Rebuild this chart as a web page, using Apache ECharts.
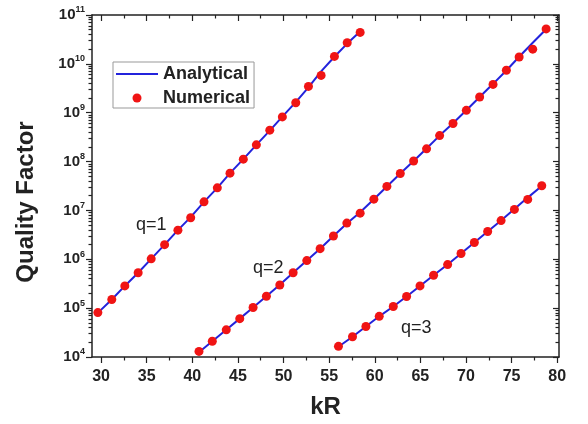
<!DOCTYPE html>
<html>
<head>
<meta charset="utf-8">
<script src="https://cdn.jsdelivr.net/npm/echarts@6/dist/echarts.min.js"></script>
<style>html,body{margin:0;padding:0;background:#fff}#main{width:588px;height:424px}</style>
</head>
<body>
<div id="main"></div>
<script>
// numerical points (kR, Q)
var kr1 = [29.64,31.17,32.6,34.06,35.49,36.96,38.42,39.82,41.28,42.74,44.13,45.59,47.02,48.49,49.87,51.34,52.73,54.12,55.58,56.98,58.4];
var num1 = [8.1e4,1.5e5,2.85e5,5.3e5,1.02e6,1.99e6,3.95e6,7.1e6,1.5e7,2.9e7,5.8e7,1.12e8,2.2e8,4.4e8,8.2e8,1.6e9,3.45e9,5.8e9,1.42e10,2.7e10,4.4e10];
var kr2 = [40.73,42.19,43.72,45.2,46.66,48.12,49.59,51.05,52.55,54.01,55.47,56.94,58.4,59.9,61.33,62.8,64.26,65.68,67.11,68.58,70.04,71.5,72.97,74.43,75.83,77.32,78.79];
var num2 = [1.3e4,2.1e4,3.6e4,6.1e4,1.03e5,1.75e5,2.98e5,5.3e5,9.4e5,1.65e6,3.0e6,5.5e6,8.8e6,1.7e7,3.1e7,5.7e7,1.03e8,1.82e8,3.4e8,6.0e8,1.12e9,2.1e9,3.8e9,7.4e9,1.38e10,2.0e10,5.2e10];
var kr3 = [56.02,57.56,59.03,60.49,62.03,63.49,64.96,66.45,67.99,69.46,70.92,72.38,73.85,75.31,76.77,78.31];
var num3 = [1.65e4,2.6e4,4.2e4,6.8e4,1.08e5,1.73e5,2.85e5,4.7e5,7.8e5,1.31e6,2.2e6,3.7e6,6.2e6,1.05e7,1.68e7,3.2e7];

// analytical curves at the same kR
var ana1 = [8.0e4,1.5e5,2.85e5,5.3e5,1.02e6,1.99e6,3.95e6,7.3e6,1.5e7,2.9e7,5.8e7,1.12e8,2.2e8,4.3e8,8.3e8,1.65e9,3.3e9,7.0e9,1.4e10,2.6e10,4.6e10];
var ana2 = [1.25e4,2.1e4,3.6e4,6.1e4,1.03e5,1.75e5,3.0e5,5.3e5,9.4e5,1.65e6,3.0e6,5.4e6,9.2e6,1.7e7,3.1e7,5.7e7,1.03e8,1.85e8,3.4e8,6.1e8,1.12e9,2.1e9,3.9e9,7.3e9,1.4e10,2.7e10,5.1e10];
var ana3 = [1.62e4,2.6e4,4.2e4,6.8e4,1.08e5,1.73e5,2.85e5,4.7e5,7.8e5,1.31e6,2.2e6,3.7e6,6.2e6,1.07e7,1.83e7,3.15e7];

var qLabels = ['q=1','q=2','q=3'];
var xMajor = [30,35,40,45,50,55,60,65,70,75,80];
var xMinor = [32.5,37.5,42.5,47.5,52.5,57.5,62.5,67.5,72.5,77.5];
var yDecades = [4,5,6,7,8,9,10,11];

var yMinor = [];
for (var n=4;n<11;n++) for (var k=2;k<10;k++) yMinor.push(n+Math.log10(k));

function pairs(xs,ys){return xs.map(function(x,i){return [x,ys[i]];});}

var font = '"Liberation Sans", Arial, sans-serif';
var ink = '#222';
var blue = '#2323dc', red = '#f01414';

function xAx(pos,ticks,len,inside,line){
    return {type:'value',position:pos,min:29,max:80.2,
        axisLine:{show:line,onZero:false,lineStyle:{color:ink,width:1.5}},
        axisTick:{show:true,customValues:ticks,length:len,inside:inside,lineStyle:{color:ink,width:1.2}},
        axisLabel:{show:false},splitLine:{show:false}};
}
function yAx(pos,ticks,len,inside,line){
    return {type:'value',position:pos,min:4,max:11,
        axisLine:{show:line,onZero:false,lineStyle:{color:ink,width:1.5}},
        axisTick:{show:true,customValues:ticks,length:len,inside:inside,lineStyle:{color:ink,width:1.2}},
        axisLabel:{show:false},splitLine:{show:false}};
}

var xBottom = xAx('bottom',xMajor,6,false,true);
xBottom.name = 'kR'; xBottom.nameLocation = 'middle'; xBottom.nameGap = 38;
xBottom.nameTextStyle = {fontFamily:font,fontWeight:'bold',fontSize:24,color:ink};
xBottom.axisLabel = {show:true,customValues:xMajor,margin:12,fontFamily:font,fontWeight:'bold',fontSize:16,color:ink};

var yLeft = yAx('left',yDecades,6,false,false);
yLeft.axisLabel = {show:true,customValues:yDecades,margin:7,
    formatter:function(v){return '{a|10}{b|'+v+'}';},
    rich:{a:{fontFamily:font,fontWeight:'bold',fontSize:15,color:ink,lineHeight:19},
          b:{fontFamily:font,fontWeight:'bold',fontSize:9,color:ink,verticalAlign:'top',lineHeight:9}}};

var lineIcon = 'path://M0,0H42V2H0Z';

var mc = echarts.init(document.getElementById('main'));
mc.setOption({
    animation:false,
    backgroundColor:'#fff',
    grid:{left:92,right:29,top:15,bottom:64},
    legend:{data:[{name:'Analytical',icon:lineIcon},{name:'Numerical',icon:'circle'}],
        orient:'vertical',left:113,top:62,
        padding:[3,4,1,3],itemGap:6,itemWidth:42,itemHeight:9,
        borderColor:'#999',borderWidth:1,
        textStyle:{fontFamily:font,fontWeight:'bold',fontSize:18,color:ink}},
    xAxis:[xBottom,
        xAx('bottom',xMinor,3.5,false,false),
        xAx('top',xMajor,6,true,true),
        xAx('top',xMinor,3.5,true,false)],
    yAxis:[
        {type:'log',logBase:10,position:'left',min:1e4,max:1e11,
         axisLine:{show:true,onZero:false,lineStyle:{color:ink,width:1.5}},
         axisTick:{show:false},axisLabel:{show:false},splitLine:{show:false},
         name:'Quality Factor',nameLocation:'middle',nameGap:54,nameRotate:90,
         nameTextStyle:{fontFamily:font,fontWeight:'bold',fontSize:24,color:ink,padding:[0,32,0,0]}},
        yLeft,
        yAx('left',yMinor,3.5,false,false),
        yAx('right',yDecades,6,true,true),
        yAx('right',yMinor,3.5,true,false)],
    graphic:[
        {type:'text',left:136,top:216,style:{text:qLabels[0],font:'18px '+font,fill:ink}},
        {type:'text',left:253,top:259,style:{text:qLabels[1],font:'18px '+font,fill:ink}},
        {type:'text',left:401,top:319,style:{text:qLabels[2],font:'18px '+font,fill:ink}}
    ],
    series:[
        {name:'Analytical',type:'line',z:2,data:pairs(kr1,ana1),symbol:'none',lineStyle:{color:blue,width:2},itemStyle:{color:blue}},
        {name:'Analytical',type:'line',z:2,data:pairs(kr2,ana2),symbol:'none',lineStyle:{color:blue,width:2},itemStyle:{color:blue}},
        {name:'Analytical',type:'line',z:2,data:pairs(kr3,ana3),symbol:'none',lineStyle:{color:blue,width:2},itemStyle:{color:blue}},
        {name:'Numerical',type:'scatter',z:5,data:pairs(kr1,num1),symbolSize:9,itemStyle:{color:red,opacity:1}},
        {name:'Numerical',type:'scatter',z:5,data:pairs(kr2,num2),symbolSize:9,itemStyle:{color:red,opacity:1}},
        {name:'Numerical',type:'scatter',z:5,data:pairs(kr3,num3),symbolSize:9,itemStyle:{color:red,opacity:1}}
    ]
});
</script>
</body>
</html>
